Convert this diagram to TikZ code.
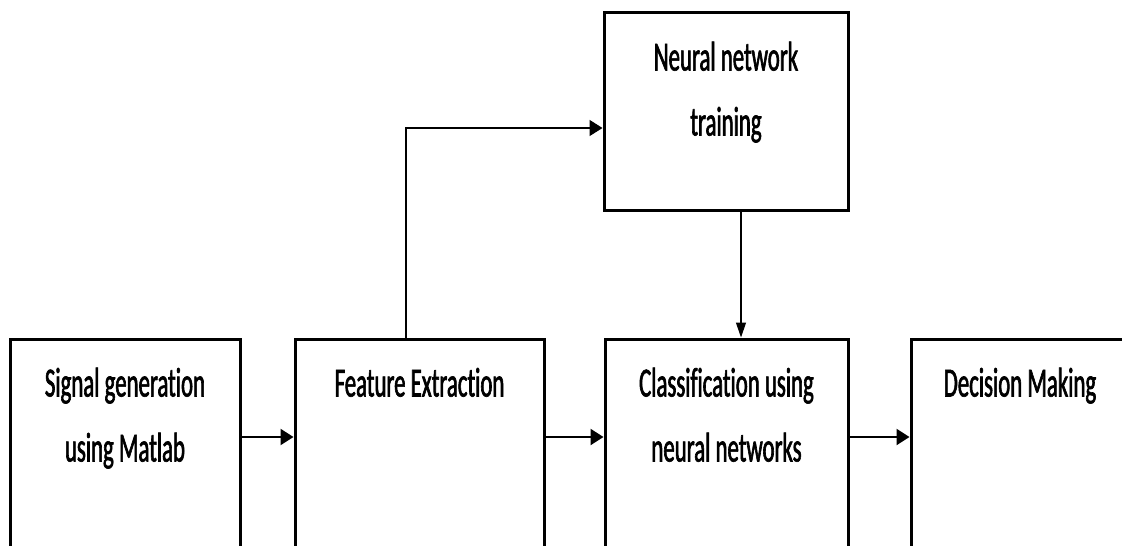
\documentclass[tikz,border=0pt]{standalone}
\usepackage{fontspec}
\setmainfont{Carlito}[FakeStretch=0.55, FakeBold=1.5, Ligatures=NoCommon]
\usetikzlibrary{arrows.meta,calc}
\tikzset{
  blk/.style={draw=black, line width=3pt, fill=none, inner sep=0pt},
  lbl/.style={font=\fontsize{41.5}{65}\selectfont, align=center, inner sep=0pt, anchor=base},
  arr/.style={draw=black, line width=2.2pt, -{Triangle[length=13pt,width=16pt]}},
  thin/.style={draw=black, line width=1.5pt, -{Triangle[length=13pt,width=16pt]}},
  thinner/.style={draw=black, line width=1.2pt, -{Triangle[length=15pt,width=10pt]}}
}
\begin{document}
\begin{tikzpicture}[x=1pt,y=-1pt]
\useasboundingbox (0,0) rectangle (1122,546);
\clip (0,0) rectangle (1122,546);
\fill[white] (0,0) rectangle (1122,546);
% boxes
\node[blk, minimum width=230pt, minimum height=261pt] (sig) at (125,469.5) {};
\node[blk, minimum width=249pt, minimum height=261pt] (feat) at (419.5,469.5) {};
\node[blk, minimum width=243pt, minimum height=261pt] (cls) at (726.5,469.5) {};
\node[blk, minimum width=218pt, minimum height=261pt] (dec) at (1020,469.5) {};
\node[blk, minimum width=244pt, minimum height=198pt] (nnt) at (726,111) {};
% labels (base = last line's baseline)
\node[lbl] (sigt) at ($(sig.north)+(0,124)$) {Signal generation\\using Matlab};
\node[lbl] (featt) at ($(feat.north)+(0,59)$) {Feature Extraction};
\node[lbl] (clst) at ($(cls.north)+(0,124)$) {Classification using\\neural networks};
\node[lbl] (dect) at ($(dec.north)+(0,59)$) {Decision Making};
\node[lbl] (nntt) at ($(nnt.north)+(0,125)$) {Neural network\\training};
% connectors
\coordinate (ay) at (0,437);
\coordinate (fx) at (406,0);
\coordinate (ty) at (0,128);
\coordinate (tx) at (741,0);
\draw[arr] (sig.east |- ay) -- (feat.west |- ay);
\draw[arr] (feat.east |- ay) -- (cls.west |- ay);
\draw[arr] (cls.east |- ay) -- (dec.west |- ay);
\draw[thin] (fx |- feat.north) |- (nnt.west |- ty);
\draw[thinner] (tx |- nnt.south) -- (tx |- cls.north);
\end{tikzpicture}
\end{document}
